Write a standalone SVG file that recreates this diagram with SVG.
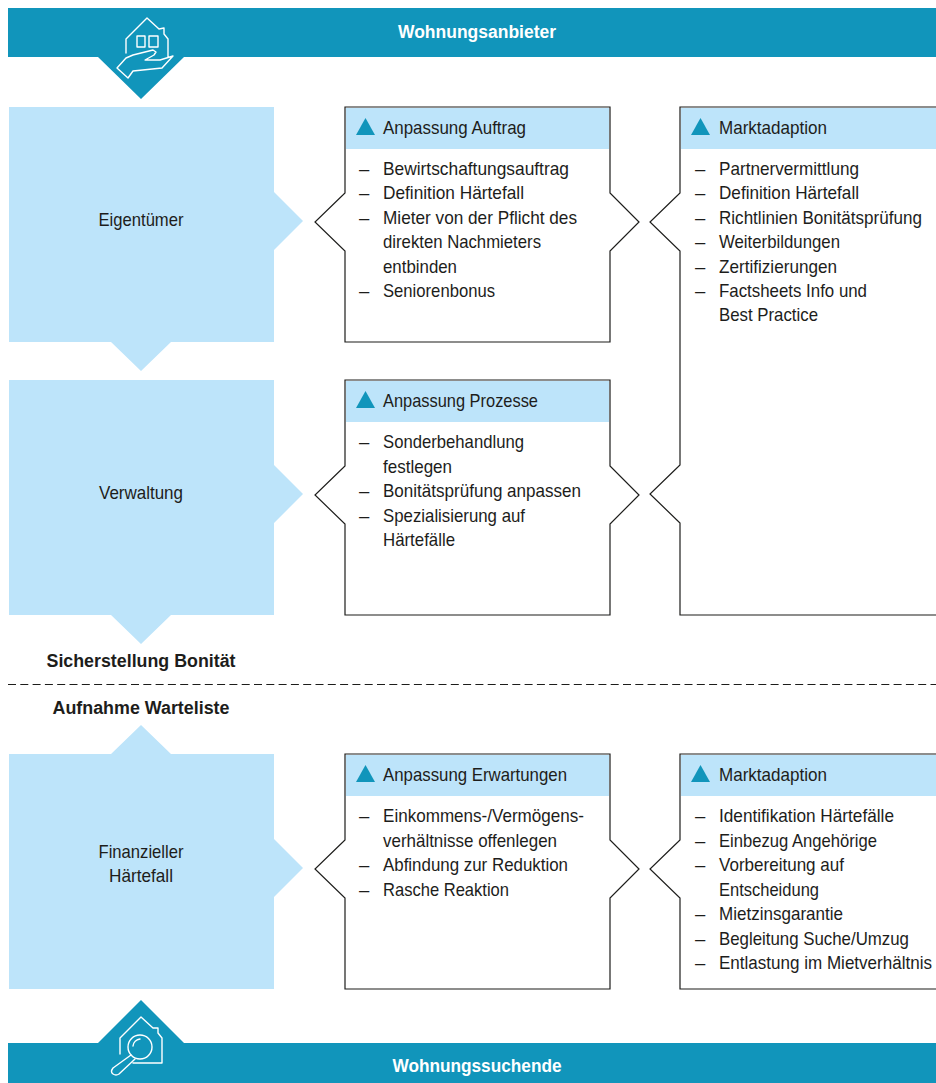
<svg xmlns="http://www.w3.org/2000/svg" width="936" height="1083" viewBox="0 0 936 1083">
<style>
text{font-family:"Liberation Sans",Arial,sans-serif;font-size:18.500px;fill:#1d1d1b}
.b{font-weight:700;font-size:17.500px}
.w{fill:#fff}
.m{text-anchor:middle}
.band{fill:#1195bb}
.lb{fill:#bde4fa}
.box{fill:#fff;stroke:#1d1d1b;stroke-width:1.2}
.ic{fill:none;stroke:#fff;stroke-width:1.4;stroke-linejoin:round;stroke-linecap:round}
.tri{fill:#1195bb}
</style>
<defs>
<path id="tr" class="tri" d="M0 17L9.500 0L19 17Z"/>
</defs>
<g id="wohnungsanbieter">
<path class="band" d="M8 8H936V57H184L141 99L98 57H8Z"/>
<path class="ic" d="M126 53V39L147 18L159 29L164 28V34L168 39V57M117 68L126 58L133 55L153 50L156 52L154 55L145 60H160L173 56L162 68L133 71L128 78ZM137 36h8v11h-8zM149 36h9v11h-9z"/>
<text class="b w m" x="477" y="38" textLength="158" lengthAdjust="spacingAndGlyphs">Wohnungsanbieter</text>
</g>
<g id="eigentuemer">
<path class="lb" d="M9 107H274V192L303 221L274 250V342H171L141 371L111 342H9Z"/>
<text class="m" x="141" y="226" textLength="85" lengthAdjust="spacingAndGlyphs">Eigentümer</text>
</g>
<g id="verwaltung">
<path class="lb" d="M9 380H274V465L303 494L274 523V615H171L141 644L111 615H9Z"/>
<text class="m" x="141" y="499" textLength="84" lengthAdjust="spacingAndGlyphs">Verwaltung</text>
</g>
<g id="haertefall">
<path class="lb" d="M9 754H111L141 725L171 754H274V839L303 868L274 897V989H9Z"/>
<text class="m" x="141" y="858" textLength="85" lengthAdjust="spacingAndGlyphs">Finanzieller</text>
<text class="m" x="141" y="882" textLength="64" lengthAdjust="spacingAndGlyphs">Härtefall</text>
</g>
<g id="anpassung-auftrag">
<path class="box" d="M345 107H610V193L639 222L610 251V342H345V251L315 222L345 193Z"/>
<rect class="lb" x="346" y="108" width="263" height="41"/>
<use href="#tr" x="356" y="118"/>
<text x="383" y="134" textLength="143" lengthAdjust="spacingAndGlyphs">Anpassung Auftrag</text>
<text x="359" y="175">–</text><text x="383" y="175" textLength="186" lengthAdjust="spacingAndGlyphs">Bewirtschaftungsauftrag</text>
<text x="359" y="199">–</text><text x="383" y="199" textLength="141" lengthAdjust="spacingAndGlyphs">Definition Härtefall</text>
<text x="359" y="224">–</text><text x="383" y="224" textLength="194" lengthAdjust="spacingAndGlyphs">Mieter von der Pflicht des</text>
<text x="383" y="248" textLength="158" lengthAdjust="spacingAndGlyphs">direkten Nachmieters</text>
<text x="383" y="273" textLength="74" lengthAdjust="spacingAndGlyphs">entbinden</text>
<text x="359" y="297">–</text><text x="383" y="297" textLength="112" lengthAdjust="spacingAndGlyphs">Seniorenbonus</text>
</g>
<g id="marktadaption-1">
<path class="box" d="M936 107H680V193L650 222L680 251V465L650 494L680 523V615H936"/>
<rect class="lb" x="681" y="108" width="255" height="41"/>
<use href="#tr" x="691" y="118"/>
<text x="719" y="134" textLength="108" lengthAdjust="spacingAndGlyphs">Marktadaption</text>
<text x="695" y="175">–</text><text x="719" y="175" textLength="140" lengthAdjust="spacingAndGlyphs">Partnervermittlung</text>
<text x="695" y="199">–</text><text x="719" y="199" textLength="140" lengthAdjust="spacingAndGlyphs">Definition Härtefall</text>
<text x="695" y="224">–</text><text transform="scale(.85 1)" x="845.880" y="224" textLength="238.800" lengthAdjust="spacingAndGlyphs">Richtlinien Bonitätsprüfung</text>
<text x="695" y="248">–</text><text x="719" y="248" textLength="121" lengthAdjust="spacingAndGlyphs">Weiterbildungen</text>
<text x="695" y="273">–</text><text x="719" y="273" textLength="118" lengthAdjust="spacingAndGlyphs">Zertifizierungen</text>
<text x="695" y="297">–</text><text x="719" y="297" textLength="148" lengthAdjust="spacingAndGlyphs">Factsheets Info und</text>
<text x="719" y="321" textLength="99" lengthAdjust="spacingAndGlyphs">Best Practice</text>
</g>
<g id="anpassung-prozesse">
<path class="box" d="M345 380H610V466L639 495L610 524V615H345V524L315 495L345 466Z"/>
<rect class="lb" x="346" y="381" width="263" height="41"/>
<use href="#tr" x="356" y="391"/>
<text x="383" y="407" textLength="155" lengthAdjust="spacingAndGlyphs">Anpassung Prozesse</text>
<text x="359" y="448">–</text><text x="383" y="448" textLength="141" lengthAdjust="spacingAndGlyphs">Sonderbehandlung</text>
<text x="383" y="473" textLength="69" lengthAdjust="spacingAndGlyphs">festlegen</text>
<text x="359" y="497">–</text><text x="383" y="497" textLength="198" lengthAdjust="spacingAndGlyphs">Bonitätsprüfung anpassen</text>
<text x="359" y="522">–</text><text x="383" y="522" textLength="142" lengthAdjust="spacingAndGlyphs">Spezialisierung auf</text>
<text x="383" y="546" textLength="72" lengthAdjust="spacingAndGlyphs">Härtefälle</text>
</g>
<g id="trennlinie">
<text class="b m" x="141" y="667" textLength="189" lengthAdjust="spacingAndGlyphs">Sicherstellung Bonität</text>
<path d="M8 684.500H936" fill="none" stroke="#1d1d1b" stroke-width="1" stroke-dasharray="8 4.300"/>
<text class="b m" x="141" y="714" textLength="177" lengthAdjust="spacingAndGlyphs">Aufnahme Warteliste</text>
</g>
<g id="anpassung-erwartungen">
<path class="box" d="M345 754H610V840L639 869L610 898V989H345V898L315 869L345 840Z"/>
<rect class="lb" x="346" y="755" width="263" height="41"/>
<use href="#tr" x="356" y="765"/>
<text x="383" y="781" textLength="184" lengthAdjust="spacingAndGlyphs">Anpassung Erwartungen</text>
<text x="359" y="822">–</text><text x="383" y="822" textLength="201" lengthAdjust="spacingAndGlyphs">Einkommens-/Vermögens-</text>
<text x="383" y="847" textLength="174" lengthAdjust="spacingAndGlyphs">verhältnisse offenlegen</text>
<text x="359" y="871">–</text><text x="383" y="871" textLength="185" lengthAdjust="spacingAndGlyphs">Abfindung zur Reduktion</text>
<text x="359" y="896">–</text><text x="383" y="896" textLength="126" lengthAdjust="spacingAndGlyphs">Rasche Reaktion</text>
</g>
<g id="marktadaption-2">
<path class="box" d="M936 754H680V840L650 869L680 898V989H936"/>
<rect class="lb" x="681" y="755" width="255" height="41"/>
<use href="#tr" x="691" y="765"/>
<text x="719" y="781" textLength="108" lengthAdjust="spacingAndGlyphs">Marktadaption</text>
<text x="695" y="822">–</text><text x="719" y="822" textLength="175" lengthAdjust="spacingAndGlyphs">Identifikation Härtefälle</text>
<text x="695" y="847">–</text><text x="719" y="847" textLength="158" lengthAdjust="spacingAndGlyphs">Einbezug Angehörige</text>
<text x="695" y="871">–</text><text x="719" y="871" textLength="125" lengthAdjust="spacingAndGlyphs">Vorbereitung auf</text>
<text x="719" y="896" textLength="100" lengthAdjust="spacingAndGlyphs">Entscheidung</text>
<text x="695" y="920">–</text><text x="719" y="920" textLength="124" lengthAdjust="spacingAndGlyphs">Mietzinsgarantie</text>
<text x="695" y="945">–</text><text x="719" y="945" textLength="190" lengthAdjust="spacingAndGlyphs">Begleitung Suche/Umzug</text>
<text x="695" y="969">–</text><text transform="scale(.85 1)" x="845.880" y="969" textLength="250.600" lengthAdjust="spacingAndGlyphs">Entlastung im Mietverhältnis</text>
</g>
<g id="wohnungssuchende">
<path class="band" d="M8 1083V1043H98L141 1000L184 1043H936V1083Z"/>
<path class="ic" d="M120 1054V1038L141 1017L153 1028H158V1033L162 1038V1063H133M131 1055L113 1068Q110 1072 113 1074Q116 1076 119 1074L135 1059"/>
<circle class="ic" cx="140" cy="1047" r="12"/>
<path class="ic" d="M133 1046A8 8 0 0 1 140 1039"/>
<text class="b w m" x="477" y="1072" textLength="169" lengthAdjust="spacingAndGlyphs">Wohnungssuchende</text>
</g>
</svg>
